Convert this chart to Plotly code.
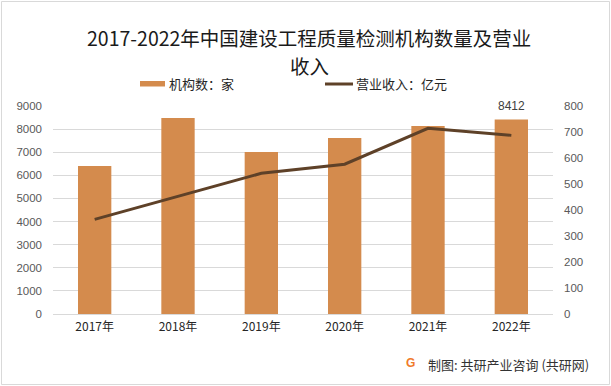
import plotly.graph_objects as go

years = ["2017年", "2018年", "2019年", "2020年", "2021年", "2022年"]
institutions = [6400, 8480, 7010, 7620, 8140, 8412]
revenue = [364, 453, 541, 576, 714, 687]
left_ticks = [0, 1000, 2000, 3000, 4000, 5000, 6000, 7000, 8000, 9000]
right_ticks = [0, 100, 200, 300, 400, 500, 600, 700, 800]

BAR_C = "#D48B4D"
LINE_C = "#5E4128"
CJK = "Noto Sans CJK SC"
NUM = "Liberation Sans"

W, H = 611, 386
L, R, T, B = 53, 58, 106, 72
PW, PH = W - L - R, H - T - B


def px(x):
    return (x - L) / PW


def py(y):
    return (H - B - y) / PH


fig = go.Figure()
fig.add_trace(go.Bar(x=years, y=institutions, name="机构数：家", marker_color=BAR_C,
                     marker_line_width=0, yaxis="y"))
fig.add_trace(go.Scatter(x=years, y=revenue, name="营业收入：亿元", mode="lines",
                         line=dict(color=LINE_C, width=3), yaxis="y2"))

fig.update_layout(
    width=W, height=H, autosize=False,
    margin=dict(l=L, r=R, t=T, b=B),
    paper_bgcolor="white", plot_bgcolor="white",
    showlegend=False, bargap=0.6,
    xaxis=dict(tickfont=dict(family=CJK, size=12, color="#262626"), showgrid=False,
               showline=False, ticks="", ticklabelstandoff=4),
    yaxis=dict(range=[0, 9000], tickvals=left_ticks, showgrid=True, gridcolor="#D9D9D9",
               gridwidth=1, zeroline=True, zerolinecolor="#D9D9D9", zerolinewidth=1,
               tickfont=dict(family=NUM, size=11.5, color="#595959"), ticks="",
               ticklabelstandoff=10, fixedrange=True),
    yaxis2=dict(range=[0, 800], tickvals=right_ticks, overlaying="y", side="right",
                showgrid=False, zeroline=False,
                tickfont=dict(family=NUM, size=11.5, color="#595959"), ticks="",
                ticklabelstandoff=10),
)

ann = []
ann.append(dict(text="2017-2022年中国建设工程质量检测机构数量及营业", x=px(309), y=py(37),
                xref="paper", yref="paper", showarrow=False, xanchor="center", yanchor="middle",
                font=dict(family=CJK, size=19.5, color="#1a1a1a")))
ann.append(dict(text="收入", x=px(309), y=py(65), xref="paper", yref="paper", showarrow=False,
                xanchor="center", yanchor="middle", font=dict(family=CJK, size=19.5, color="#1a1a1a")))
# legend
ann.append(dict(text="机构数：家", x=px(167), y=py(84), xref="paper", yref="paper", showarrow=False,
                xanchor="left", yanchor="middle", font=dict(family=CJK, size=13, color="#262626")))
ann.append(dict(text="营业收入：亿元", x=px(354), y=py(84), xref="paper", yref="paper", showarrow=False,
                xanchor="left", yanchor="middle", font=dict(family=CJK, size=13, color="#262626")))
# data label
ann.append(dict(text=str(institutions[-1]), x=years[-1], y=institutions[-1], xref="x", yref="y",
                showarrow=False, yshift=14, font=dict(family=NUM, size=12, color="#404040")))
# source
ann.append(dict(text="<b>G</b>", x=px(410), y=py(363), xref="paper", yref="paper", showarrow=False,
                xanchor="center", yanchor="middle", font=dict(family=NUM, size=12, color="#F07A2A")))
ann.append(dict(text="制图: 共研产业咨询 (共研网)", x=px(426), y=py(364), xref="paper", yref="paper",
                showarrow=False, xanchor="left", yanchor="middle",
                font=dict(family=CJK, size=13, color="#333333")))
fig.update_layout(annotations=ann)

shapes = [
    dict(type="rect", xref="paper", yref="paper", x0=px(140), x1=px(165), y0=py(86.5), y1=py(81),
         fillcolor=BAR_C, line=dict(width=0)),
    dict(type="line", xref="paper", yref="paper", x0=px(325), x1=px(353), y0=py(84), y1=py(84),
         line=dict(color=LINE_C, width=3)),
    dict(type="rect", xref="paper", yref="paper", x0=px(1.5), x1=px(609.5), y0=py(384.5), y1=py(1.5),
         line=dict(color="#D9D9D9", width=1), fillcolor="rgba(0,0,0,0)", layer="below"),
]
fig.update_layout(shapes=shapes)

fig.write_html("out.html", config={"displayModeBar": False},
               post_script="document.body.style.margin='0';document.body.style.overflow='hidden';")
